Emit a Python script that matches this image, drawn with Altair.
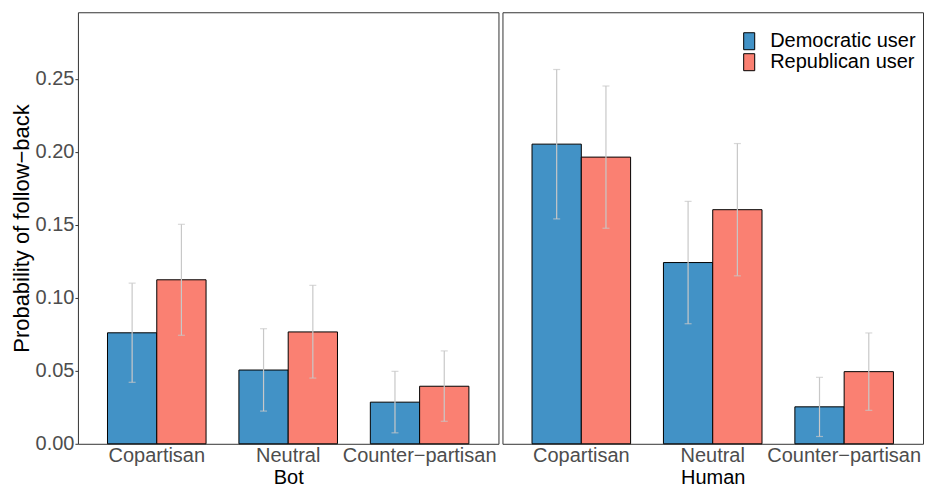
import altair as alt
import pandas as pd

panels = ["Bot", "Human"]
categories = ["Copartisan", "Neutral", "Counter\u2212partisan"]
users = ["Democratic user", "Republican user"]

bot_dem = [0.0760, 0.0505, 0.0285]
bot_dem_lo = [0.0421, 0.0224, 0.0075]
bot_dem_hi = [0.1100, 0.0788, 0.0496]
bot_rep = [0.1123, 0.0766, 0.0394]
bot_rep_lo = [0.0743, 0.0450, 0.0154]
bot_rep_hi = [0.1503, 0.1085, 0.0636]

human_dem = [0.2052, 0.1241, 0.0253]
human_dem_lo = [0.1540, 0.0822, 0.0050]
human_dem_hi = [0.2563, 0.1660, 0.0455]
human_rep = [0.1963, 0.1603, 0.0494]
human_rep_lo = [0.1476, 0.1150, 0.0229]
human_rep_hi = [0.2450, 0.2056, 0.0759]

y_ticks = [0.0, 0.05, 0.10, 0.15, 0.20, 0.25]
colors = ["#4292C6", "#FA8072"]

series = {
    ("Bot", users[0]): (bot_dem, bot_dem_lo, bot_dem_hi),
    ("Bot", users[1]): (bot_rep, bot_rep_lo, bot_rep_hi),
    ("Human", users[0]): (human_dem, human_dem_lo, human_dem_hi),
    ("Human", users[1]): (human_rep, human_rep_lo, human_rep_hi),
}

rows = []
for (panel, user), (vals, los, his) in series.items():
    for cat, v, lo, hi in zip(categories, vals, los, his):
        rows.append({"panel": panel, "category": cat, "user": user,
                     "p": v, "lo": lo, "hi": hi})
df = pd.DataFrame(rows)

FONT = "Liberation Sans"
y_scale = alt.Scale(domain=[0, 0.2955], nice=False, zero=True)
x_scale = alt.Scale(paddingInner=0.25, paddingOuter=0.225)
fill_scale = alt.Scale(domain=users, range=colors)
ERR = "#C8C8C8"


def panel_chart(name, show_y):
    base = alt.Chart(df[df["panel"] == name])
    if show_y:
        y_axis = alt.Axis(title="Probability of follow\u2212back", values=y_ticks,
                          format=".2f", grid=False, domain=False,
                          tickSize=3, tickColor="#333333",
                          labelFontSize=20, labelColor="#4D4D4D",
                          labelPadding=1, titleFontSize=22,
                          titleFontWeight="normal", titleColor="black",
                          titlePadding=2, labelFont=FONT, titleFont=FONT)
    else:
        y_axis = None
    x_enc = alt.X("category:N", sort=categories, scale=x_scale,
                  axis=alt.Axis(title=name, labelAngle=0, ticks=False,
                                domain=False, labelFontSize=20,
                                labelColor="#4D4D4D", labelPadding=2,
                                titleFontSize=20, titleFontWeight="normal",
                                titleColor="black", titlePadding=2,
                                labelFont=FONT, titleFont=FONT))
    xoff = alt.XOffset("user:N", sort=users,
                       scale=alt.Scale(paddingInner=0, paddingOuter=0))
    bars = base.mark_bar(stroke="black", strokeWidth=1).encode(
        x=x_enc,
        xOffset=xoff,
        y=alt.Y("p:Q", scale=y_scale, axis=y_axis),
        fill=alt.Fill("user:N", scale=fill_scale,
                      legend=alt.Legend(title=None, orient="none",
                                        legendX=662, legendY=19,
                                        symbolType="M-0.65,-1L0.65,-1L0.65,1L-0.65,1Z",
                                        symbolSize=289,
                                        symbolStrokeColor="black",
                                        symbolStrokeWidth=1,
                                        symbolOpacity=1,
                                        labelFontSize=20, labelColor="black",
                                        labelFont=FONT, labelOffset=11,
                                        rowPadding=-3, padding=0)),
    )
    rule = base.mark_rule(color=ERR, strokeWidth=1.2).encode(
        x=alt.X("category:N", sort=categories, scale=x_scale),
        xOffset=xoff,
        y=alt.Y("lo:Q", scale=y_scale),
        y2="hi:Q",
    )
    tick_lo = base.mark_tick(color=ERR, thickness=1.2, size=7,
                             orient="horizontal").encode(
        x=alt.X("category:N", sort=categories, scale=x_scale),
        xOffset=xoff,
        y=alt.Y("lo:Q", scale=y_scale),
    )
    tick_hi = base.mark_tick(color=ERR, thickness=1.2, size=7,
                             orient="horizontal").encode(
        x=alt.X("category:N", sort=categories, scale=x_scale),
        xOffset=xoff,
        y=alt.Y("hi:Q", scale=y_scale),
    )
    return alt.layer(bars, rule, tick_lo, tick_hi).properties(width=421, height=432)


chart = alt.hconcat(
    panel_chart("Bot", True), panel_chart("Human", False), spacing=2
).properties(
    padding={"left": 1, "top": 3, "right": 0, "bottom": 0},
    background="white",
).configure(
    font=FONT,
    view=alt.ViewConfig(stroke="#333333", strokeWidth=1),
)

chart.save("out.html", embed_options={"renderer": "svg", "actions": False})
